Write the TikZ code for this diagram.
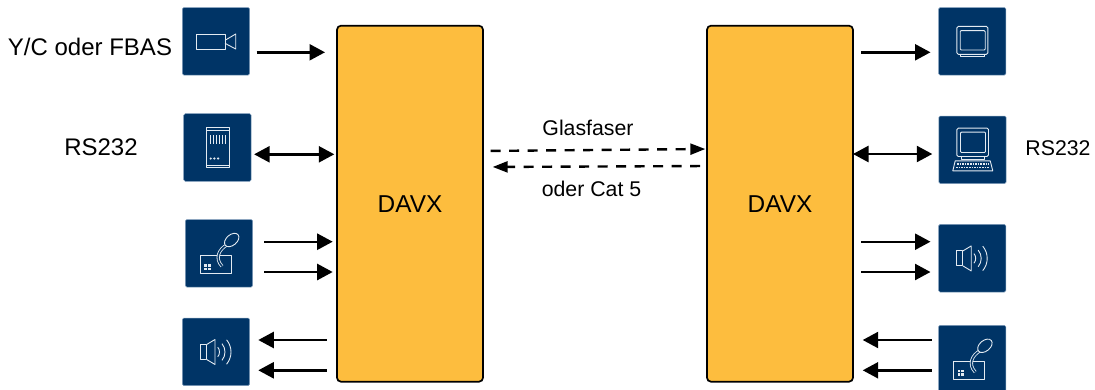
\documentclass[tikz,border=0pt]{standalone}
\usepackage{fontspec}
\setmainfont{Liberation Sans}
\usetikzlibrary{arrows.meta}
\definecolor{boxblue}{HTML}{003466}
\definecolor{boxedge}{HTML}{7F9DBB}
\definecolor{davxfill}{HTML}{FDBD3E}
\definecolor{iconline}{HTML}{E4EBF2}
\tikzset{
    iconbox/.style={draw=boxedge,line width=0.5pt,fill=boxblue,rounded corners=1.5pt,
        inner sep=0pt,outer sep=0pt,minimum width=67.4pt,minimum height=67.6pt},
    davxbox/.style={draw=black,line width=1.7pt,fill=davxfill,rounded corners=4pt,
        inner sep=0pt,outer sep=0pt,minimum width=146pt,minimum height=356pt,
        font=\fontsize{24.4}{28}\selectfont},
    biglabel/.style={anchor=base,inner sep=0pt,font=\fontsize{24}{28}\selectfont},
    smalllabel/.style={anchor=base,inner sep=0pt,font=\fontsize{21.3}{26}\selectfont},
    sig/.style={line width=2.4pt,-{Triangle[length=15.5pt,width=16pt]}},
    sigboth/.style={line width=2.4pt,{Triangle[length=15.5pt,width=16pt]}-{Triangle[length=15.5pt,width=16pt]}},
    fibre/.style={line width=2.4pt,dash pattern=on 10pt off 8.5pt,-{Triangle[length=15pt,width=11pt]}},
    iconpen/.style={draw=iconline,line width=0.9pt,line join=round},
    camicon/.pic={
        \draw[iconpen] (-20,-7.3) rectangle (9,7.7);
        \draw[iconpen] (9,-1) -- (19.7,-7.3) -- (19.7,7.7) -- (9,2);
    },
    rackicon/.pic={
        \draw[iconpen] (-11.3,-20) rectangle (11.7,20);
        \draw[iconpen] (-11.3,-17) -- (11.7,-17);
        \draw[iconpen] (-11.3,17.7) -- (11.7,17.7);
        \foreach \x in {-7,-4,-1,2,5,8}
            \draw[iconline,line width=1pt] (\x,-12.3) -- (\x,-3.3);
        \foreach \x in {-6.7,-3,0.7}
            \fill[iconline] (\x,11) circle (1.2);
    },
    micicon/.pic={
        \draw[iconpen] (-19,2.3) rectangle (12.7,20);
        \fill[iconline] (-14.7,10.7) rectangle (-12,13.2);
        \fill[iconline] (-11,10.7) rectangle (-8.3,13.2);
        \fill[iconline] (-14.7,14.2) rectangle (-12,16.7);
        \fill[iconline] (-11,14.2) rectangle (-8.3,16.7);
        \draw[iconline,line width=3.2pt] (7.7,-8.3) .. controls (0,-4) and (-4.5,5) .. (3,13);
        \draw[boxblue,line width=1.5pt] (7.7,-8.3) .. controls (0,-4) and (-4.5,5) .. (3,13);
        \draw[iconpen,fill=boxblue,rotate around={40:(12.7,-13.3)}] (12.7,-13.3) ellipse (8.3 and 5.3);
    },
    speakericon/.pic={
        \draw[iconpen] (-16,-7.3) rectangle (-9.3,7.7);
        \draw[iconpen] (-9.3,-7.3) -- (-1,-12.3) -- (-1,12.7) -- (-9.3,7.7);
        \foreach \r in {7.5,13,19}
            \draw[iconpen] ([shift={(-40:\r)}]-4,0.2) arc[start angle=-40,end angle=40,radius=\r];
    },
    monitoricon/.pic={
        \draw[iconpen,rounded corners=1.5pt] (-15.3,-15) rectangle (15.7,13);
        \draw[iconpen,rounded corners=1pt] (-12,-10.7) rectangle (13,8.7);
        \draw[iconpen] (-11.3,13) -- (-11.3,15) -- (12,15) -- (12,13);
    },
    pcicon/.pic={
        \draw[iconpen,rounded corners=1.5pt] (-15.7,-21.7) rectangle (16,6.7);
        \draw[iconpen,rounded corners=1pt] (-12,-17.7) rectangle (13,2.7);
        \draw[iconpen] (-11.3,6.7) -- (-11.3,9.5) -- (12,9.5) -- (12,6.7);
        \draw[iconpen] (-17.3,11) -- (17.7,11) -- (20.3,21) -- (-19.7,21) -- cycle;
        \draw[iconline,line width=1.5pt,dash pattern=on 1.6pt off 1pt] (-15.5,14) -- (16,14);
        \draw[iconline,line width=1.5pt,dash pattern=on 1.6pt off 1pt] (-16.5,17.5) -- (17,17.5);
    },
}
\begin{document}
\begin{tikzpicture}[x=1pt,y=-1pt]
    \clip (0,0) rectangle (1095,389);
    % the two units
    \node[davxbox] (davxL) at (410,203.7) {\raisebox{-1.6pt}{DAVX}};
    \node[davxbox] (davxR) at (780,203.7) {\raisebox{-1.6pt}{DAVX}};
    % left side
    \node[iconbox] (camL) at (216,41.3) {};
    \node[iconbox] (rackL) at (217.4,147.5) {};
    \node[iconbox] (micL) at (219,253.3) {};
    \node[iconbox] (spkL) at (216,351.8) {};
    \pic at (camL) {camicon};
    \pic at (rackL) {rackicon};
    \pic at (micL) {micicon};
    \pic at (spkL) {speakericon};
    % right side
    \node[iconbox] (monR) at (972.2,41.3) {};
    \node[iconbox] (pcR) at (972.5,149.8) {};
    \node[iconbox] (spkR) at (972.2,258.2) {};
    \node[iconbox] (micR) at (972.2,359.1) {};
    \pic at (monR) {monitoricon};
    \pic at (pcR) {pcicon};
    \pic at (spkR) {speakericon};
    \pic at (micR) {micicon};
    % labels
    \node[biglabel] (ycLabel) at (90,55) {Y/C oder FBAS};
    \node[biglabel] (rsL) at (101,155) {RS232};
    \node[smalllabel] (rsR) at (1058,155.5) {RS232};
    \node[smalllabel] (glasLabel) at (588,135.7) {Glasfaser};
    \node[smalllabel] (catLabel) at (591.5,196) {oder Cat 5};
    % left connectors
    \draw[sig,shorten <=7pt,shorten >=12pt] (camL.east |- 0,52.3) -- (davxL.west |- 0,52.3);
    \draw[sigboth,shorten <=3pt,shorten >=2.7pt] (rackL.east |- 0,154.3) -- (davxL.west |- 0,154.3);
    \draw[sig,shorten <=11.3pt,shorten >=4.3pt] (micL.east |- 0,241.7) -- (davxL.west |- 0,241.7);
    \draw[sig,shorten <=11.3pt,shorten >=4.3pt] (micL.east |- 0,272) -- (davxL.west |- 0,272);
    \draw[sig,shorten <=10.3pt,shorten >=8.6pt] (davxL.west |- 0,340) -- (spkL.east |- 0,340);
    \draw[sig,shorten <=10.3pt,shorten >=8.6pt] (davxL.west |- 0,370.3) -- (spkL.east |- 0,370.3);
    % right connectors
    \draw[sig,shorten <=8pt,shorten >=8pt] (davxR.east |- 0,52.3) -- (monR.west |- 0,52.3);
    \draw[sigboth,shorten <=0pt,shorten >=6.5pt] (davxR.east |- 0,154) -- (pcR.west |- 0,154);
    \draw[sig,shorten <=8pt,shorten >=8pt] (davxR.east |- 0,241.7) -- (spkR.west |- 0,241.7);
    \draw[sig,shorten <=8pt,shorten >=8pt] (davxR.east |- 0,272) -- (spkR.west |- 0,272);
    \draw[sig,shorten <=6.8pt,shorten >=9.7pt] (micR.west |- 0,340) -- (davxR.east |- 0,340);
    \draw[sig,shorten <=6.8pt,shorten >=9.7pt] (micR.west |- 0,370.3) -- (davxR.east |- 0,370.3);
    % between the units
    \draw[fibre,shorten <=7.7pt,shorten >=1.7pt] (davxL.east |- 0,151) -- (davxR.west |- 0,149);
    \draw[fibre,shorten <=7pt,shorten >=9.7pt] (davxR.west |- 0,166) -- (davxL.east |- 0,167);
\end{tikzpicture}
\end{document}
